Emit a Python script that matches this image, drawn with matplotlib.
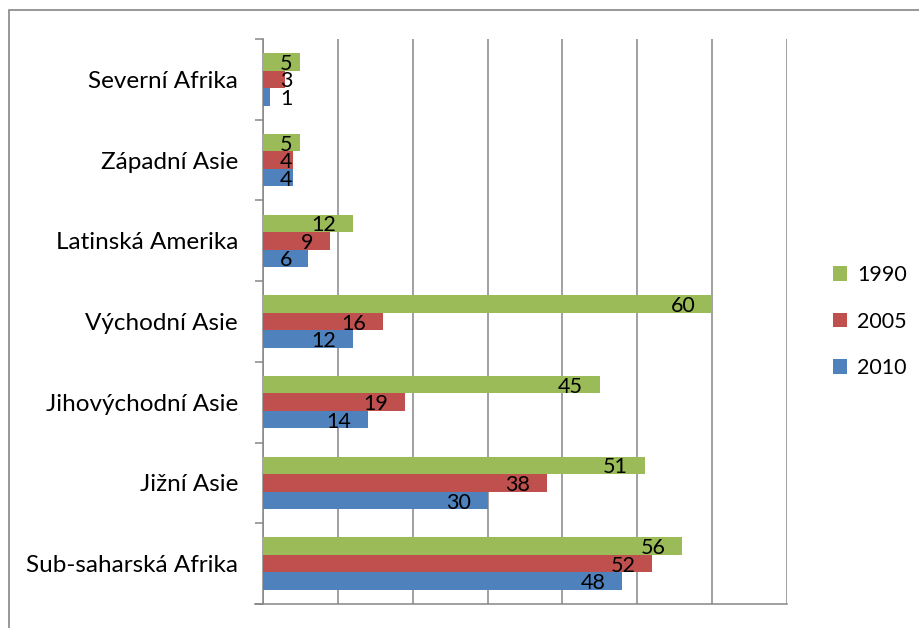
import numpy as np
import matplotlib
matplotlib.use("Agg")
import matplotlib.pyplot as plt
from matplotlib.patches import Rectangle

plt.rcParams['font.family'] = ['Lato', 'DejaVu Sans']

# categories bottom -> top
regions = ["Sub-saharská Afrika", "Jižní Asie", "Jihovýchodní Asie",
           "Východní Asie", "Latinská Amerika", "Západní Asie", "Severní Afrika"]
years = ["1990", "2005", "2010"]
v1990 = [56, 51, 45, 60, 12, 5, 5]
v2005 = [52, 38, 19, 16, 9, 4, 3]
v2010 = [48, 30, 14, 12, 6, 4, 1]

c_green = "#9BBB59"
c_red = "#C0504D"
c_blue = "#4F81BD"
grey = "#868686"

W, H = 920, 628
fig = plt.figure(figsize=(W / 100, H / 100), dpi=100)
ax = fig.add_axes([263 / W, 24 / H, 524 / W, 565 / H])

y = np.arange(len(regions))
h = 0.217
b2010 = ax.barh(y - h, v2010, height=h, color=c_blue, label="2010", zorder=3)
b2005 = ax.barh(y, v2005, height=h, color=c_red, label="2005", zorder=3)
b1990 = ax.barh(y + h, v1990, height=h, color=c_green, label="1990", zorder=3)

ax.set_xlim(0, 70)
ax.set_ylim(-0.5, len(regions) - 0.5)
ax.set_xticks(np.arange(0, 71, 10))
ax.tick_params(axis='x', length=0, labelbottom=False)
ax.grid(axis='x', color=grey, linewidth=1.1, zorder=0)

ax.set_yticks(np.arange(-0.5, len(regions), 1.0))
ax.set_yticklabels([])
ax.tick_params(axis='y', which='major', length=6, width=1.1, color=grey, direction='out')
ax.set_yticks(y, minor=True)
ax.set_yticklabels(regions, minor=True, fontsize=17.5)
ax.tick_params(axis='y', which='minor', length=0, pad=18)

for s in ['top', 'right']:
    ax.spines[s].set_visible(False)
for s in ['left', 'bottom']:
    ax.spines[s].set_color(grey)
    ax.spines[s].set_linewidth(1.1)
ax.spines['bottom'].set_bounds(-8 / 524 * 70, 70)

# data labels: inside end, pushed right when too close to the axis
pad = 17 * 72 / 100
fig.canvas.draw()
r = fig.canvas.get_renderer()
x0 = ax.transAxes.transform((0, 0))[0]
for bars, vals in [(b2010, v2010), (b2005, v2005), (b1990, v1990)]:
    for rect, v in zip(bars, vals):
        yc = rect.get_y() + rect.get_height() / 2
        t = ax.annotate(str(v), (v, yc), xytext=(-pad, -1.5), textcoords='offset points',
                        ha='right', va='center', fontsize=15.5, zorder=4)
        bb = t.get_window_extent(r)
        if bb.x0 < x0 + 17:
            t.remove()
            ax.annotate(str(v), (0, yc), xytext=(pad, -1.5), textcoords='offset points',
                        ha='left', va='center', fontsize=15.5, zorder=4)

ax.legend(handles=[b1990, b2005, b2010], loc='center left',
          bbox_to_anchor=(1.05, 0.5), frameon=False, fontsize=15.5,
          handlelength=0.68, handleheight=0.68, handletextpad=0.45, labelspacing=1.22)

# chart area border (only top and left edges fall inside the picture)
fig.add_artist(Rectangle((8.5 / W, -0.2), 1.5, 1.2 - 9.5 / H, transform=fig.transFigure,
                         fill=False, edgecolor=grey, linewidth=1.2, clip_on=False))

fig.savefig("out.png", dpi=100)
